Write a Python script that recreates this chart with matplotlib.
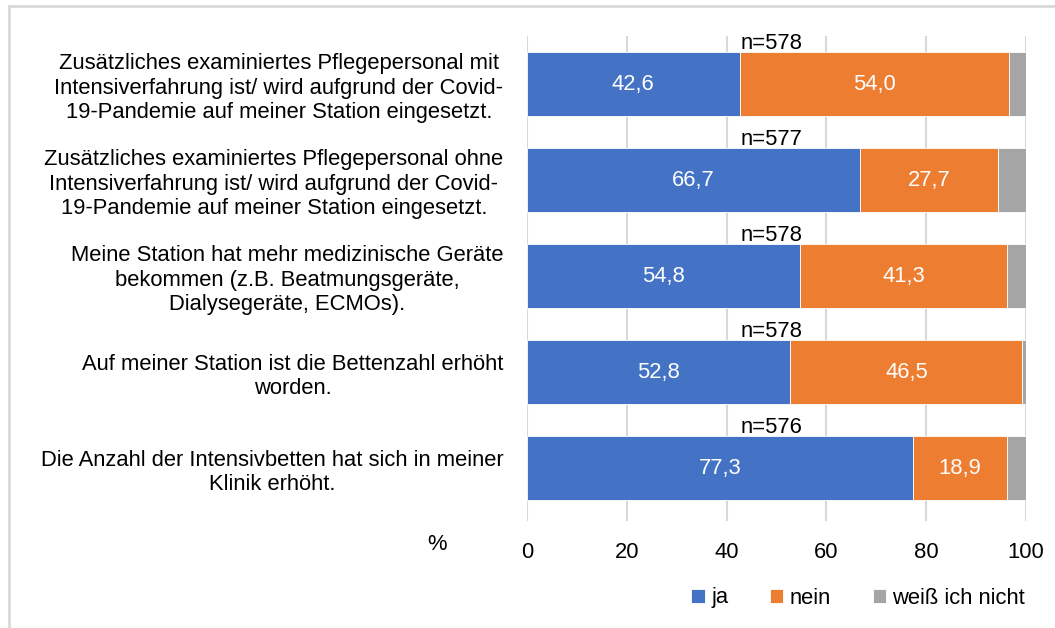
import matplotlib.pyplot as plt
from matplotlib.lines import Line2D

plt.rcParams['font.family'] = ['Liberation Sans', 'DejaVu Sans']

# questions (top to bottom)
labels = [
    "Zusätzliches examiniertes Pflegepersonal mit\nIntensiverfahrung ist/ wird aufgrund der Covid-\n19-Pandemie auf meiner Station eingesetzt.",
    "Zusätzliches examiniertes Pflegepersonal ohne\nIntensiverfahrung ist/ wird aufgrund der Covid-\n19-Pandemie auf meiner Station eingesetzt.",
    "Meine Station hat mehr medizinische Geräte\nbekommen (z.B. Beatmungsgeräte,\nDialysegeräte, ECMOs).",
    "Auf meiner Station ist die Bettenzahl erhöht\nworden.",
    "Die Anzahl der Intensivbetten hat sich in meiner\nKlinik erhöht.",
]
n_values = [578, 577, 578, 578, 576]
ja = [42.6, 66.7, 54.8, 52.8, 77.3]
nein = [54.0, 27.7, 41.3, 46.5, 18.9]
weiss = [3.4, 5.6, 3.9, 0.7, 3.8]

series = [("ja", ja, "#4472C4"), ("nein", nein, "#ED7D31"), ("weiß ich nicht", weiss, "#A5A5A5")]

fs = 15.8

fig = plt.figure(figsize=(10.55, 6.28), dpi=100)
ax = fig.add_axes([0.4995, 1 - 521 / 628, 0.9725 - 0.4995, (521 - 36) / 628])

y = list(range(len(labels)))
left = [0.0] * len(labels)
for name, vals, col in series:
    bars = ax.barh(y, vals, left=left, height=0.667, color=col, edgecolor='white',
                   linewidth=0.6, label=name, zorder=2)
    if name != "weiß ich nicht":
        for b, v in zip(bars, vals):
            ax.text(b.get_x() + b.get_width() / 2, b.get_y() + b.get_height() / 2,
                    f"{v:.1f}".replace('.', ','), color='white', fontsize=fs,
                    ha='center', va='center', zorder=3)
    left = [l + v for l, v in zip(left, vals)]

# n labels above each bar
for yi, n in zip(y, n_values):
    ax.text(49, yi - 0.667 / 2 + 0.02, f"n={n}", fontsize=fs, ha='center', va='bottom', zorder=3)

ax.set_xlim(0, 100)
ax.set_ylim(4.55, -0.5)
ax.set_xticks([0, 20, 40, 60, 80, 100])
ax.set_yticks(y)
ax.set_yticklabels(labels, fontsize=fs, multialignment='center')
ax.tick_params(axis='y', length=0, pad=17)
ax.tick_params(axis='x', length=0, pad=15, labelsize=fs)
ax.grid(axis='x', color='#D9D9D9', linewidth=1.5, zorder=0)
for s in ax.spines.values():
    s.set_visible(False)

fig.text(437 / 1055, 1 - 545 / 628, "%", fontsize=fs, ha='center', va='center')

ax.legend(loc='center right', bbox_to_anchor=(1045 / 1055, 1 - 598 / 628),
          bbox_transform=fig.transFigure, ncol=3, frameon=False, fontsize=fs,
          handlelength=0.6, handleheight=0.6, handletextpad=0.3, columnspacing=1.9)

# light frame at the left and top
fig.add_artist(Line2D([9 / 1055, 9 / 1055], [0, 1 - 6 / 628], transform=fig.transFigure,
                      color='#D9D9D9', linewidth=2))
fig.add_artist(Line2D([9 / 1055, 1], [1 - 6 / 628, 1 - 6 / 628], transform=fig.transFigure,
                      color='#D9D9D9', linewidth=2))

fig.savefig("out.png", dpi=100)
